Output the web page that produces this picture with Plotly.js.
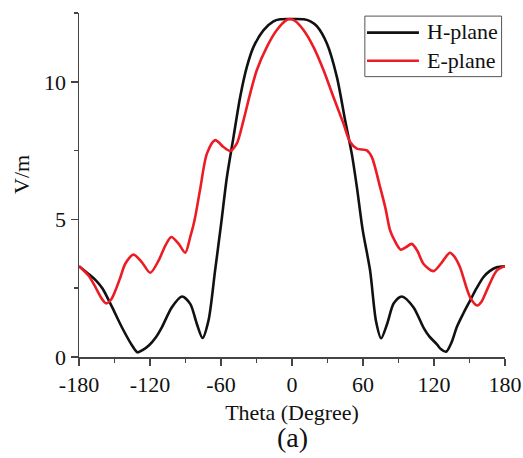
<!DOCTYPE html>
<html>
<head>
<meta charset="utf-8">
<script src="https://cdn.plot.ly/plotly-3.0.1.min.js"></script>
<style>html,body{margin:0;padding:0;background:#fff;}</style>
</head>
<body>
<div id="chart"></div>
<script>
const hTheta = [-180,-172,-165,-160,-152,-144,-135,-130.5,-126,-121,-115,-110,-101.5,-93,-86,-80.4,-75.6,-70.6,-65,-60,-55,-49.4,-43.8,-38.1,-32.5,-24,-16,-10,0,10,16,21,29.4,37.9,44.9,50.5,54.8,59.8,66,71,75.3,80.5,86,92.8,102.6,111,116,122.3,126,130.2,135,139.2,145,150.5,156,161.7,167,173,180];
const hValues = [3.30,3.02,2.75,2.48,1.81,1.10,0.41,0.17,0.26,0.42,0.72,1.08,1.81,2.20,1.93,1.20,0.69,1.32,3.14,4.80,6.54,8.00,9.45,10.55,11.27,11.88,12.19,12.27,12.28,12.27,12.19,12.02,11.40,10.18,8.60,7.39,6.18,4.60,3.14,1.30,0.68,1.22,1.95,2.20,1.81,1.08,0.75,0.47,0.28,0.19,0.55,1.08,1.60,2.05,2.50,2.90,3.12,3.26,3.30];
const eTheta = [-180,-172,-166,-160.6,-157,-153,-149.3,-145,-140.9,-133.9,-126.8,-119.8,-112.8,-107,-102,-95.9,-90.2,-86,-82.4,-77.6,-71.9,-64.9,-57.9,-52.2,-46.6,-41,-35.3,-29.7,-21.2,-12.8,-4.4,-1.6,3,9.7,18.1,26.6,35,43.5,49.1,54.8,63.2,67.4,74.4,79,82.9,87.1,91.9,96,101.2,106,111,119.5,126,133.5,138,142,150.5,156.6,160,164.5,173,180];
const eValues = [3.30,2.96,2.53,2.11,1.95,2.08,2.41,2.90,3.39,3.72,3.44,3.06,3.50,4.05,4.36,4.12,3.79,4.36,4.96,6.10,7.39,7.88,7.63,7.49,7.76,8.60,9.58,10.43,11.27,11.88,12.25,12.28,12.20,11.88,11.27,10.43,9.45,8.48,7.81,7.57,7.51,7.27,6.18,5.40,4.60,4.20,3.90,3.98,4.11,3.85,3.39,3.12,3.40,3.79,3.60,3.26,2.17,1.87,2.00,2.41,3.14,3.30];
const seriesNames = ['H-plane','E-plane'];
const seriesColors = ['#111111','#ED1C24'];
const xTicks = [-180,-120,-60,0,60,120,180];
const yTicks = [0,5,10];

const traces = [
  {x:hTheta, y:hValues, name:seriesNames[0], mode:'lines', showlegend:false, line:{color:seriesColors[0], width:2.6, shape:'spline', smoothing:0.8}},
  {x:eTheta, y:eValues, name:seriesNames[1], mode:'lines', showlegend:false, line:{color:seriesColors[1], width:2.6, shape:'spline', smoothing:0.8}}
];
// hand-built legend box (paper coordinates)
const legRowY = [0.943, 0.861];
const shapes = [
  {type:'rect', xref:'paper', yref:'paper', x0:0.671, x1:0.992, y0:0.815, y1:0.991, line:{color:'#555', width:1}, fillcolor:'#fff', layer:'above'}
];
const legendTexts = [];
seriesNames.forEach((n,i)=>{
  shapes.push({type:'line', xref:'paper', yref:'paper', x0:0.676, x1:0.798, y0:legRowY[i], y1:legRowY[i], line:{color:seriesColors[i], width:2.6}, layer:'above'});
  legendTexts.push({text:n, xref:'paper', yref:'paper', x:0.812, y:legRowY[i]+0.002, xanchor:'left', yanchor:'middle', showarrow:false,
                    font:{family:'Liberation Serif', size:22, color:'#111'}});
});
const layout = {
  width:523, height:458,
  margin:{l:79, r:18, t:13, b:101},
  showlegend:false,
  xaxis:{range:[-180,180], tickvals:xTicks, ticktext:xTicks.map(String), showgrid:false, zeroline:false,
         showline:true, linecolor:'#444', linewidth:1.5, ticks:'outside', ticklen:7, tickwidth:1.5, tickcolor:'#444',
         minor:{dtick:30, tick0:0, ticklen:4, tickwidth:1.5, tickcolor:'#444', ticks:'outside', showgrid:false},
         tickfont:{family:'Liberation Serif', size:22, color:'#111'},
         title:{text:'Theta (Degree)', font:{family:'Liberation Serif', size:22, color:'#111'}, standoff:8}},
  yaxis:{range:[0,12.5], tickvals:yTicks, ticktext:yTicks.map(String), showgrid:false, zeroline:false,
         showline:true, linecolor:'#444', linewidth:1.5, ticks:'outside', ticklen:7, tickwidth:1.5, tickcolor:'#444',
         minor:{dtick:2.5, tick0:0, ticklen:4, tickwidth:1.5, tickcolor:'#444', ticks:'outside', showgrid:false},
         tickfont:{family:'Liberation Serif', size:22, color:'#111'}},
  shapes:shapes,
  annotations:[
    {text:'V/m', xref:'paper', yref:'paper', x:-0.134, y:0.532, xanchor:'center', yanchor:'middle', textangle:-90,
     showarrow:false, font:{family:'Liberation Serif', size:22, color:'#111'}},
    {text:'(a)', xref:'paper', yref:'paper', x:0.5, y:-0.235, xanchor:'center', yanchor:'middle',
     showarrow:false, font:{family:'Liberation Serif', size:28, color:'#111'}}
  ].concat(legendTexts)
};
Plotly.newPlot('chart', traces, layout, {staticPlot:true});
</script>
</body>
</html>
